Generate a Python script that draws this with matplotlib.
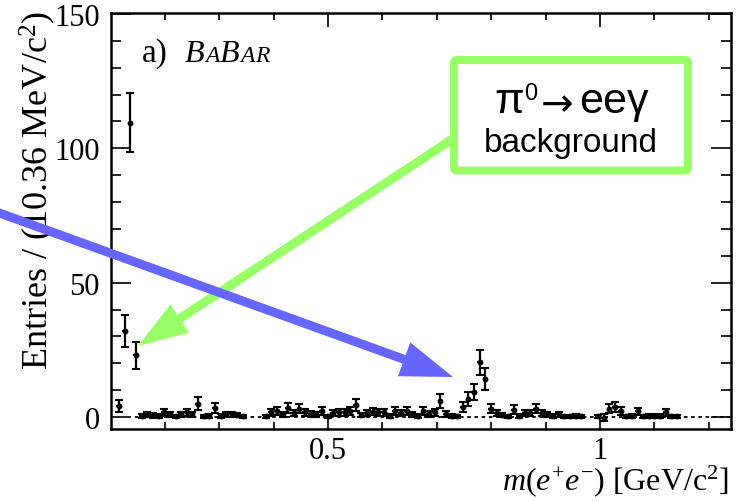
import numpy as np
import matplotlib
matplotlib.use("Agg")
import matplotlib.pyplot as plt
from matplotlib.transforms import Affine2D
from matplotlib.patches import FancyArrow, FancyBboxPatch
from matplotlib.ticker import MultipleLocator

W, H, DPI = 739, 502, 100

# m(e+e-) histogram, 10.36 MeV/c^2 bins
bin_width = 0.01036
first_center = 0.116
entries = np.array([
    4.2, 32.0, 109.5, 23.0, 0.5, 1.0, 0.6, 0.5, 1.7, 1.0,
    0.2, 1.0, 1.7, 1.0, 5.0, 0.3, 0.5, 3.4, 0.5, 1.0,
    1.0, 0.7, 0.3, 0.0, 0.0, 0.0, 0.3, 1.7, 2.3, 1.0,
    3.4, 1.4, 3.0, 1.7, 1.2, 1.0, 2.3, 0.2, 1.4, 1.7,
    1.7, 2.3, 4.6, 0.7, 1.4, 2.0, 1.7, 1.7, 0.5, 2.3,
    1.4, 2.3, 1.0, 0.5, 2.3, 1.1, 1.7, 6.0, 1.1, 0.5,
    0.3, 3.6, 6.7, 9.2, 20.3, 14.1, 3.0, 1.5, 0.7, 0.3,
    2.7, 0.5, 1.4, 1.4, 3.0, 1.4, 1.0, 0.5, 1.0, 0.3,
    0.3, 0.5, 0.2, 0.0, 0.0, 0.2, -0.3, 3.0, 3.8, 2.3,
    0.3, 0.5, 2.1, 0.3, 0.5, 0.5, 0.5, 1.7, 0.3, 0.3,
    0.0, 0.0, 0.0, 0.0, 0.0, 0.0, 0.0, 0.0, 0.0,
])
errors = np.array([
    2.2, 6.0, 11.0, 5.0, 0.7, 1.0, 0.8, 0.7, 1.3, 1.0,
    0.5, 1.0, 1.3, 1.0, 2.4, 0.6, 0.7, 1.9, 0.7, 1.0,
    1.0, 0.8, 0.6, 0.0, 0.0, 0.0, 0.6, 1.3, 1.5, 1.0,
    1.8, 1.2, 1.7, 1.3, 1.1, 1.0, 1.5, 0.5, 1.2, 1.3,
    1.3, 1.5, 2.2, 0.8, 1.2, 1.4, 1.3, 1.3, 0.7, 1.5,
    1.2, 1.5, 1.0, 0.7, 1.5, 1.0, 1.3, 2.5, 1.0, 0.7,
    0.6, 1.9, 2.6, 3.0, 4.8, 4.0, 1.7, 1.2, 0.8, 0.6,
    1.6, 0.7, 1.2, 1.2, 1.7, 1.2, 1.0, 0.7, 1.0, 0.6,
    0.6, 0.7, 0.5, 0.0, 0.0, 0.5, 1.3, 1.7, 1.9, 1.5,
    0.6, 0.7, 1.4, 0.6, 0.7, 0.7, 0.7, 1.3, 0.6, 0.6,
    0.0, 0.0, 0.0, 0.0, 0.0, 0.0, 0.0, 0.0, 0.0,
])
centers = first_center + bin_width * np.arange(len(entries))

x_major = [0.5, 1.0]
x_major_labels = ["0.5", "1"]
y_major = [0, 50, 100, 150]
y_major_labels = ["0", "50", "100", "150"]

plt.rcParams["font.family"] = ["Liberation Serif", "DejaVu Serif"]
plt.rcParams["mathtext.fontset"] = "custom"
plt.rcParams["mathtext.rm"] = "Liberation Serif"
plt.rcParams["mathtext.it"] = "Liberation Serif:italic"

fig = plt.figure(figsize=(W / DPI, H / DPI), dpi=DPI)
ax = fig.add_axes([111 / W, 1 - 430 / H, 620 / W, 416 / H])

# pixel coordinates measured from the top-left corner
px = Affine2D().scale(1 / DPI, -1 / DPI).translate(0, H / DPI) + fig.dpi_scale_trans

ax.hlines(0, 0.146, 1.241, colors="k", linestyles=(0, (2, 2)), lw=1.3, zorder=1)

m = entries != 0
ax.errorbar(centers[m], entries[m], yerr=errors[m], fmt="o", ms=3.2, color="k",
            elinewidth=1.6, capsize=2.8, capthick=1.5, zorder=3)
ax.errorbar(centers[m], entries[m], xerr=bin_width / 2, fmt="none", ecolor="k",
            elinewidth=1.6, zorder=3)

ax.set_xlim(0.101, 1.241)
ax.set_ylim(-4.47, 150.35)
ax.set_xticks(x_major)
ax.set_xticklabels(x_major_labels)
ax.set_yticks(y_major)
ax.set_yticklabels(y_major_labels)
ax.xaxis.set_minor_locator(MultipleLocator(0.1))
ax.yaxis.set_minor_locator(MultipleLocator(10))
ax.tick_params(axis="both", which="both", direction="in", top=True, right=True,
               width=1.2, labelsize=22)
ax.tick_params(axis="x", which="major", length=10, pad=5)
ax.tick_params(axis="x", which="minor", length=5)
ax.tick_params(axis="y", which="major", length=14.5, pad=8)
ax.tick_params(axis="y", which="minor", length=7)
for s in ax.spines.values():
    s.set_linewidth(1.8)

fig.text(48, 190, "Entries / (10.36 MeV/c$^{2}$)", transform=px, rotation=90,
         rotation_mode="anchor", ha="center", va="baseline", fontsize=26)
fig.text(729, 490, r"$m(e^{+}e^{-})$ [GeV/c$^{2}$]", transform=px,
         ha="right", va="baseline", fontsize=23)

# experiment tag
fig.text(142, 62, "a)", transform=px, fontsize=24, va="baseline")
tag = [("B", 23, 185), ("A", 17, 205), ("B", 23, 220), ("A", 17, 240.5), ("R", 17, 255.5)]
for ch, sz, x in tag:
    fig.text(x, 62, ch, transform=px, fontsize=sz, style="italic", va="baseline")

green = "#99ff66"
blue = "#6666ff"
sans = ["Liberation Sans", "DejaVu Sans"]

box = FancyBboxPatch((454, 61), 234, 110.5, boxstyle="round,pad=0,rounding_size=3",
                     transform=px, fill=False, ec=green, lw=5.8, zorder=10)
fig.add_artist(box)
fig.text(494, 113, "π", transform=px, family=sans, fontsize=31, va="baseline", zorder=11)
fig.text(524, 100, "0", transform=px, family=sans, fontsize=17, va="baseline", zorder=11)
fig.text(557, 101, "→", transform=px, family=["DejaVu Sans"], fontsize=28,
         ha="center", va="center_baseline", zorder=11)
fig.text(579, 113, "eeγ", transform=px, family=sans, fontsize=31, va="baseline", zorder=11)
fig.text(571, 152, "background", transform=px, family=sans, fontsize=24,
         ha="center", va="baseline", zorder=11)

fig.add_artist(FancyArrow(454, 139, 138 - 454, 347 - 139, width=9, head_width=34,
                          head_length=50, length_includes_head=True, transform=px,
                          color=green, lw=0, zorder=10))
fig.add_artist(FancyArrow(-20, 207, 453 + 20, 378 - 207, width=9, head_width=36,
                          head_length=52, length_includes_head=True, transform=px,
                          color=blue, lw=0, zorder=10))

fig.savefig("out.png", dpi=DPI)
